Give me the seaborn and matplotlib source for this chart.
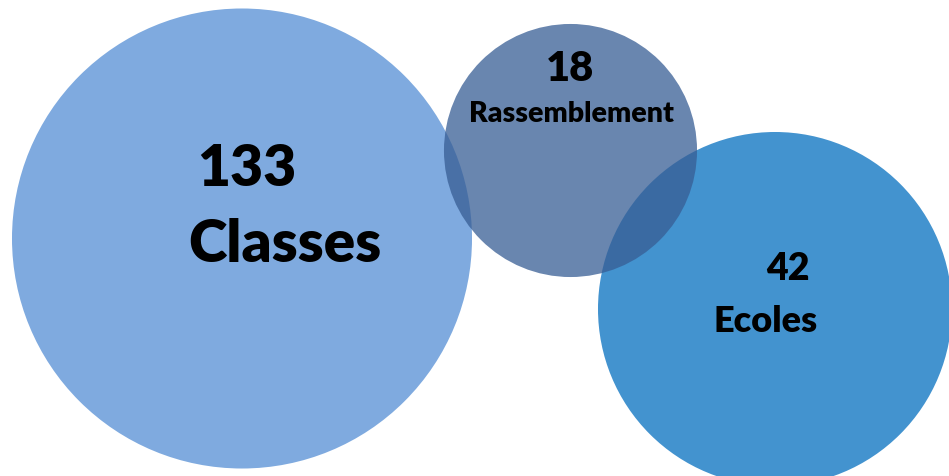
import matplotlib
matplotlib.use("Agg")
import matplotlib.pyplot as plt
import seaborn as sns
import pandas as pd

# --- data ---
categories = ["Classes", "Rassemblement", "Ecoles"]
values = [133, 18, 42]
x_vals = [2.42, 5.70, 7.75]
y_vals = [2.375, 3.265, 1.67]

sns.set_style("white")
plt.rcParams["font.family"] = ["Lato", "DejaVu Sans"]

df = pd.DataFrame({"cat": categories, "value": values, "x": x_vals, "y": y_vals})

colors = {"Classes": "#7FAADF", "Ecoles": "#4393CF", "Rassemblement": "#375D94"}
# marker areas (pt^2) chosen to match the bubble radii in the reference
sizes = {"Classes": 109700, "Rassemblement": 33200, "Ecoles": 64970}

fig = plt.figure(figsize=(9.49, 4.77), dpi=100)
ax = fig.add_axes([0, 0, 1, 1])

opaque = df[df["cat"] != "Rassemblement"]
transp = df[df["cat"] == "Rassemblement"]

sns.scatterplot(data=opaque, x="x", y="y", hue="cat", size="cat",
                palette=colors, sizes=sizes, linewidth=0, alpha=1,
                legend=False, ax=ax, zorder=1)
sns.scatterplot(data=transp, x="x", y="y", hue="cat", size="cat",
                palette=colors, sizes=sizes, linewidth=0, alpha=0.75,
                legend=False, ax=ax, zorder=2)

ax.set_xlim(0, 9.49)
ax.set_ylim(0, 4.77)
ax.axis("off")

# label layout: (number offset, label offset, sizes, alignment)
layout = {
    "Classes": dict(num=(-32.4, 38.2), lab=(-38.9, -16.2), fs=(41, 42), ha="left"),
    "Rassemblement": dict(num=(0, 50), lab=(0.7, 20.5), fs=(30, 20.5), ha="center"),
    "Ecoles": dict(num=(9.4, 21.6), lab=(-6.5, -15.8), fs=(27, 26), ha="center"),
}

for _, row in df.iterrows():
    L = layout[row["cat"]]
    ax.annotate(str(row["value"]), xy=(row["x"], row["y"]), xytext=L["num"],
                textcoords="offset points", ha=L["ha"], va="baseline",
                fontsize=L["fs"][0], fontweight="heavy", color="black", zorder=5)
    ax.annotate(row["cat"], xy=(row["x"], row["y"]), xytext=L["lab"],
                textcoords="offset points", ha=L["ha"], va="baseline",
                fontsize=L["fs"][1], fontweight="heavy", color="black", zorder=5)

fig.savefig("out.png", dpi=100)
